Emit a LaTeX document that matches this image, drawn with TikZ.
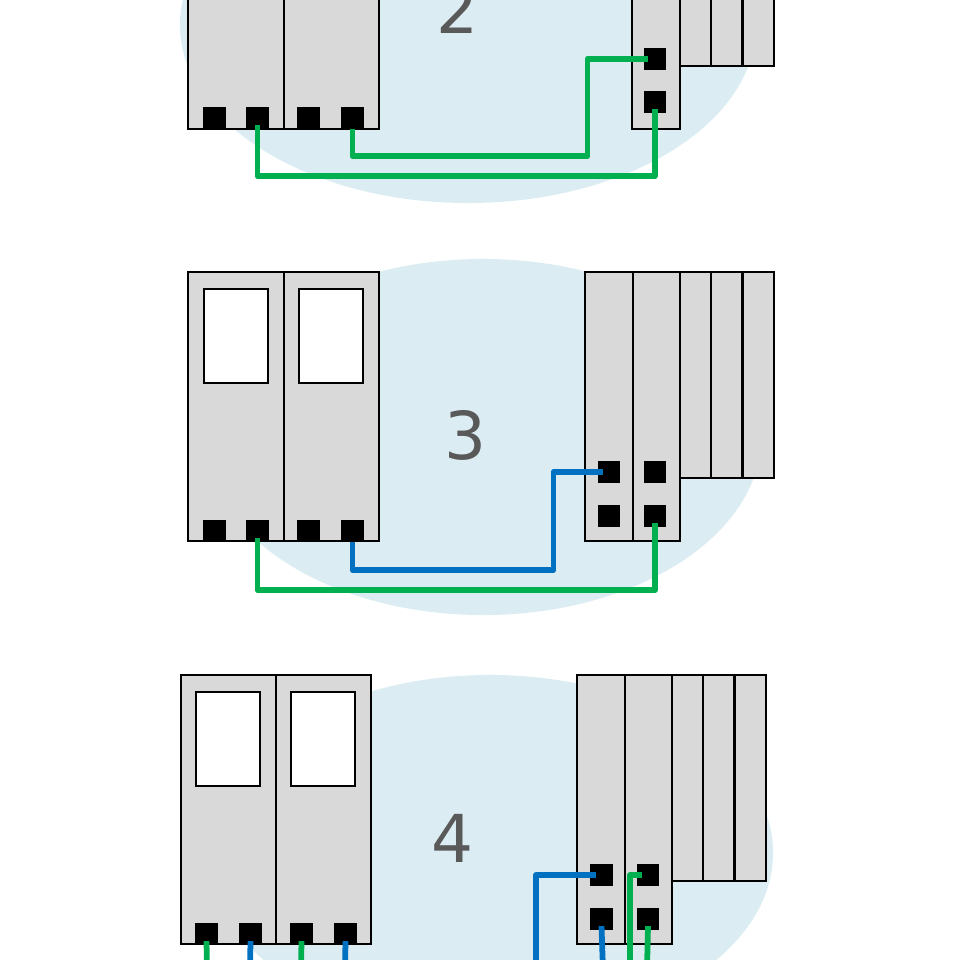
\documentclass[tikz,border=0pt]{standalone}
\usepackage{fontspec}
\setmainfont{DejaVu Sans}
\usepackage{xcolor}
\usetikzlibrary{shapes.geometric, positioning}
\definecolor{zoneblue}{RGB}{219,237,243}
\definecolor{panelgray}{RGB}{217,217,217}
\definecolor{wiregreen}{RGB}{0,176,80}
\definecolor{wireblue}{RGB}{0,112,192}
\definecolor{digitgray}{RGB}{89,89,89}
\tikzset{
  zone/.style={ellipse,fill=zoneblue,inner sep=0pt,minimum width=#1},
  zone/.default=13.9cm,
  cabinet/.style={draw=black,line width=1.3pt,fill=panelgray,anchor=north west,inner sep=0pt,outer sep=0pt,minimum width=2.375cm,minimum height=6.725cm},
  rack/.style={cabinet,minimum width=1.175cm},
  shelf/.style={cabinet,minimum width=0.78cm,minimum height=5.15cm},
  window/.style={draw=black,line width=1.3pt,fill=white,anchor=north west,inner sep=0pt,outer sep=0pt,minimum width=1.6cm,minimum height=2.35cm},
  port/.style={fill=black,inner sep=0pt,minimum width=0.57cm,minimum height=0.55cm},
  greenwire/.style={draw=wiregreen,line width=4.1pt,line join=round},
  bluewire/.style={draw=wireblue,line width=4.1pt,line join=round},
  digit/.style={text=digitgray,inner sep=0pt,font=\fontsize{47}{47}\selectfont}
}

\begin{document}
\begin{tikzpicture}[x=0.025cm,y=-0.025cm]
\useasboundingbox (0,0) rectangle (960,960);
\clip (0,0) rectangle (960,960);

% Zones
\node[zone,minimum height=8.9cm,minimum width=14.4cm] (zone2) at (468,25) {};
\node[zone,minimum height=8.9cm] (zone3) at (483,437) {};
\node[zone,minimum height=8.9cm,minimum width=14.15cm] (zone4) at (490,853) {};

% Group 2
\node[cabinet,minimum width=2.4cm] (c2a) at (188,-140) {};
\node[cabinet] (c2b) at (284,-140) {};
\node[rack,minimum width=1.2cm] (r2a) at (632,-140) {};
\node[shelf] (s2a) at (680,-140) {};
\node[shelf] (s2b) at (711,-140) {};
\node[shelf] (s2c) at (743,-140) {};
\node[port] (a2a) at (214.5,118) {};
\node[port] (a2b) at (257.5,118) {};
\node[port] (a2c) at (308.5,118) {};
\node[port] (a2d) at (352.5,118) {};
\node[port] (b2a) at (655,59) {};
\node[port] (b2b) at (655,102) {};
\node[digit] (n2) at (458,9) {2};
\draw[greenwire] ([yshift=3pt]a2b.south) -- ++(0,51) -| ([yshift=3pt]b2b.south);
\draw[greenwire] (a2d.south) -- ++(0,27) -- ++(235,0) |- ([xshift=-5pt]b2a.center);

% Group 3
\node[cabinet,minimum width=2.4cm] (c3a) at (188,272) {};
\node[cabinet] (c3b) at (284,272) {};
\node[window] (w3a) at (204,289) {};
\node[window] (w3b) at (299,289) {};
\node[rack,minimum width=1.2cm] (r3a) at (585,272) {};
\node[rack] (r3b) at (633,272) {};
\node[shelf] (s3a) at (680,272) {};
\node[shelf] (s3b) at (711,272) {};
\node[shelf] (s3c) at (743,272) {};
\node[port] (a3a) at (214.5,531) {};
\node[port] (a3b) at (257.5,531) {};
\node[port] (a3c) at (308.5,531) {};
\node[port] (a3d) at (352.5,531) {};
\node[port] (b3a) at (609,472) {};
\node[port] (b3b) at (655,472) {};
\node[port] (b3c) at (609,516) {};
\node[port] (b3d) at (655,516) {};
\node[digit] (n3) at (466,435.5) {3};
\draw[greenwire] ([yshift=3pt]a3b.south) -- ++(0,52) -| ([yshift=3pt]b3d.south);
\draw[bluewire] (a3d.south) -- ++(0,28) -- ++(201,0) |- ([xshift=-4pt]b3a.center);

% Group 4
\node[cabinet] (c4a) at (181,675) {};
\node[cabinet] (c4b) at (276,675) {};
\node[window] (w4a) at (196,692) {};
\node[window] (w4b) at (291,692) {};
\node[rack,minimum width=1.2cm] (r4a) at (577,675) {};
\node[rack] (r4b) at (625,675) {};
\node[shelf] (s4a) at (672,675) {};
\node[shelf] (s4b) at (703,675) {};
\node[shelf] (s4c) at (735,675) {};
\node[port] (a4a) at (206.5,934) {};
\node[port] (a4b) at (250.5,934) {};
\node[port] (a4c) at (301.5,934) {};
\node[port] (a4d) at (345.5,934) {};
\node[port] (b4a) at (601.5,875) {};
\node[port] (b4b) at (648,875) {};
\node[port] (b4c) at (601.5,919) {};
\node[port] (b4d) at (648,919) {};
\node[digit] (n4) at (453,838.5) {4};
\coordinate (e4a) at (207,970);
\coordinate (e4b) at (250,970);
\coordinate (e4c) at (301,970);
\coordinate (e4d) at (345,970);
\coordinate (e4e) at (536,970);
\coordinate (e4f) at (603,970);
\coordinate (e4g) at (630,970);
\coordinate (e4h) at (647,970);
\draw[greenwire] ([yshift=3pt]a4a.south) -- (e4a);
\draw[bluewire] ([yshift=3pt]a4b.south) -- (e4b);
\draw[greenwire] ([yshift=3pt]a4c.south) -- (e4c);
\draw[bluewire] ([yshift=3pt]a4d.south) -- (e4d);
\draw[bluewire] (e4e) |- ([xshift=-4pt]b4a.center);
\draw[bluewire] (e4f) -- ([yshift=3pt]b4c.south);
\draw[greenwire] (e4g) |- ([xshift=-4pt]b4b.center);
\draw[greenwire] (e4h) -- ([yshift=3pt]b4d.south);
\end{tikzpicture}
\end{document}
